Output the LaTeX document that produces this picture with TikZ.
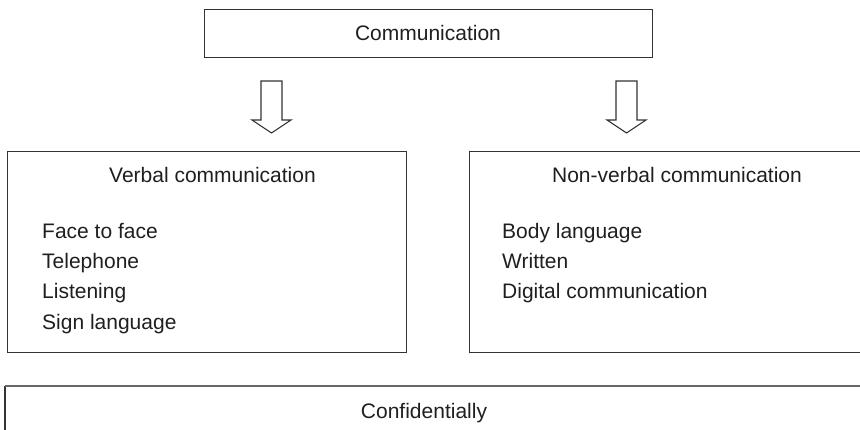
\documentclass[tikz,border=0pt]{standalone}
\usepackage{fontspec}
\setmainfont{Liberation Sans}
\begin{document}
\begin{tikzpicture}[x=1pt,y=-1pt,
  box/.style={draw=black!80,line width=1.3pt,rectangle,inner sep=0pt,anchor=north west},
  lbl/.style={text=black!88,font=\fontsize{21}{25}\selectfont,inner sep=0pt,anchor=base},
  item/.style={lbl,anchor=base west},
  blockarrow/.style={draw=black!80,line width=1.1pt,fill=white,line join=miter}
]
\useasboundingbox (0,0) rectangle (860,430);
\clip (0,0) rectangle (860,430);

% boxes
\node[box,minimum width=448pt,minimum height=48pt] (top) at (204,9) {};
\node[box,minimum width=399pt,minimum height=201pt] (left) at (7,151) {};
\node[box,minimum width=420pt,minimum height=201pt] (right) at (469,151) {};
\coordinate (bl) at (5,386);
\coordinate (blb) at (5,440);
\coordinate (br) at (870,386);
\draw[draw=black!80,line width=1.3pt] (blb) -- (bl);
\draw[draw=black!60,line width=2pt] (bl) -- (br);

% texts
\node[lbl] (ttop) at (428,40.5) {Communication};
\node[lbl] (tleft) at (212.5,183) {Verbal communication};
\node[item] (l1) at (42,238.3) {Face to face};
\node[item] (l2) at (42,268.6) {Telephone};
\node[item] (l3) at (42,298.9) {Listening};
\node[item] (l4) at (42,329.2) {Sign language};
\node[lbl] (tright) at (677,183) {Non-verbal communication};
\node[item] (r1) at (502,238.3) {Body language};
\node[item] (r2) at (502,268.6) {Written};
\node[item] (r3) at (502,298.9) {Digital communication};
\node[lbl] (tbot) at (424,419) {Confidentially};

% block arrows
\coordinate (a1) at (271.5,81);
\coordinate (a2) at (626.5,81);
\foreach \a in {a1,a2}{
  \draw[blockarrow] ([xshift=-10.5pt]\a) -- ([xshift=10.5pt]\a)
    -- ([xshift=10.5pt,yshift=-39pt]\a) -- ([xshift=19.5pt,yshift=-39pt]\a)
    -- ([yshift=-52pt]\a) -- ([xshift=-19.5pt,yshift=-39pt]\a)
    -- ([xshift=-10.5pt,yshift=-39pt]\a) -- cycle;
}
\end{tikzpicture}
\end{document}
